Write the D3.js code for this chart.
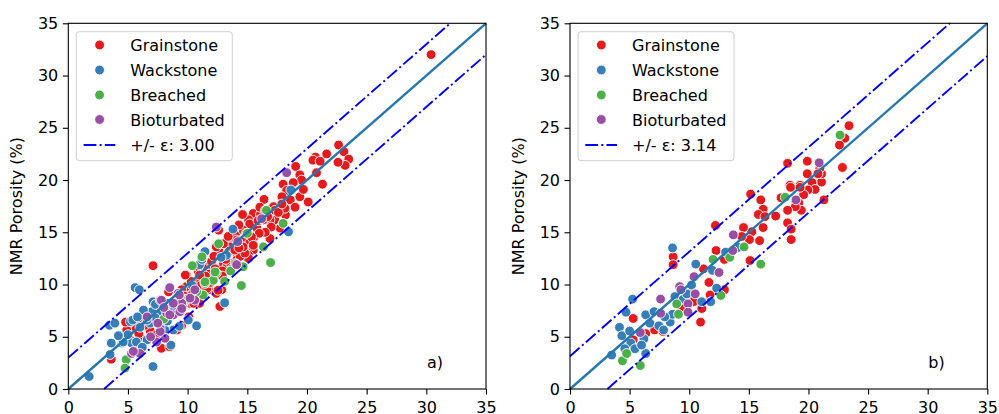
<!DOCTYPE html>
<html>
<head>
<meta charset="utf-8">
<script src="https://cdn.jsdelivr.net/npm/d3@7"></script>
<style>
  body { margin: 0; background: #fff; }
  svg { display: block; font-family: "DejaVu Sans", sans-serif; }
</style>
</head>
<body>
<svg id="chart" width="999" height="414"></svg>
<script>
// Facies classes and their colours (ColorBrewer Set1)
const categories = ["Grainstone", "Wackstone", "Breached", "Bioturbated"];
const colors = ["#e41a1c", "#377eb8", "#4daf4a", "#984ea3"];
const ticks = [0, 5, 10, 15, 20, 25, 30, 35];
const panelTags = ["a)", "b)"];
const epsilons = [3.00, 3.14];

// Panel a) — [core porosity, NMR porosity] pairs per facies
const grainstoneA = [
  [30.4,32.0],[22.65,23.35],[23.1,22.7],[23.5,22.0],[23.2,21.4],[22.6,21.7],[21.65,22.5],[20.7,22.2],
  [20.5,21.9],[20.8,20.7],[21.3,19.6],[20.1,17.9],[19.05,21.3],[19.4,20.5],[19.55,20.0],[18.85,19.75],
  [18.0,19.6],[18.3,19.0],[19.4,18.4],[18.6,18.1],[17.9,18.4],[19.0,17.4],[18.2,17.2],[18.2,16.65],
  [17.2,17.45],[16.4,18.15],[16.6,17.0],[17.3,16.2],[17.75,15.4],[16.9,16.2],[16.35,16.2],[15.5,16.8],
  [15.5,15.85],[15.1,16.2],[14.6,16.7],[13.8,15.2],[14.9,14.3],[15.6,14.6],[13.8,14.3],[13.55,13.6],
  [14.95,13.6],[15.5,13.3],[14.1,13.0],[15.1,12.8],[14.1,12.35],[15.1,12.5],[13.3,12.8],[13.0,12.0],
  [13.3,11.7],[12.6,13.3],[12.4,13.6],[12.6,15.2],[16.9,14.4],[11.75,11.7],[11.3,11.55],[10.9,11.2],
  [11.3,10.4],[9.9,10.9],[10.75,10.3],[9.9,9.8],[10.5,8.8],[10.2,8.2],[11.0,8.2],[11.75,9.5],
  [12.4,9.15],[12.85,9.5],[12.7,7.9],[9.5,9.5],[8.4,9.3],[7.1,11.8],[9.1,5.65],[9.5,6.1],
  [7.8,3.9],[6.8,5.65],[6.1,6.6],[5.2,5.65],[4.9,6.45],[4.9,5.65],[5.2,4.7],[3.6,2.85],[6.0,5.0],
  [12.0,12.2],[12.3,11.5],[13.5,13.2],[14.4,12.7],[11.8,11.0],[12.9,11.3],[14.0,14.8],[13.0,13.9],
  [15.8,15.4],[16.1,16.7],[17.0,15.5],[16.5,15.0],[15.2,14.0],[13.6,12.0],[14.8,13.0],[12.1,10.6],
  [11.5,10.8],[10.6,9.6],[11.1,9.9],[10.3,10.3],[9.8,10.9],[10.9,11.7],[11.0,10.9],[11.6,9.6],
  [12.55,9.45],[10.6,8.7],[9.35,8.5],[10.1,6.9],[10.5,8.2],[8.5,4.05],[5.7,5.8],[6.85,5.6],
  [4.8,6.4],[16.05,17.4],[15.2,15.8],[16.0,14.9],[14.65,15.2],[15.35,14.55],[15.5,13.75],[14.65,13.6],
  [14.1,14.25],[13.95,13.3],[18.15,17.3],[17.3,17.1],[16.5,17.1],
  [12.2,12.7],[13.2,12.4],[14.3,13.5],[12.9,10.8],[11.9,10.2],[13.7,11.5],[14.9,14.9],[15.9,16.1],
  [16.7,16.5],[17.6,16.9],[14.3,15.7],[13.4,14.6],[10.4,9.1],[9.7,8.9],[5.9,5.3],[6.4,6.1],
  [7.4,5.2],[17.9,17.7],[19.7,19.1],[21.1,21.8]
];
const wackstoneA = [
  [1.75,1.2],[3.45,6.1],[3.9,6.3],[3.6,4.4],[4.5,4.4],[5.6,9.7],[5.95,9.5],[7.1,2.15],
  [8.6,4.2],[10.75,6.05],[10.05,6.6],[13.1,8.25],[13.25,12.8],[13.8,15.3],[11.45,13.15],[18.45,15.05],
  [18.65,19.05],[7.1,8.35],[6.3,7.4],[6.6,4.7],[5.3,4.4],[9.1,7.55],[8.8,5.65],[5.2,6.45],
  [11.0,11.9],[7.7,7.25],[7.0,7.4],[7.8,7.4],[6.3,7.55],[5.4,6.6],[4.6,4.5],[5.7,4.5],
  [8.1,5.65],[8.77,7.55],[6.85,6.3],[8.9,7.55],[9.3,6.0],[6.0,5.9],[7.3,6.8],[5.0,5.2],
  [6.2,4.0],[8.3,8.2],[9.6,7.9],[11.2,12.4],[12.8,12.6],[3.5,3.3],
  [6.6,6.6],[7.6,6.2],[5.8,6.9],[9.9,8.6],[10.4,9.9],[7.3,8.1],[8.3,6.5],[4.2,5.1]
];
const breachedA = [
  [4.85,2.8],[4.75,2.0],[14.5,9.9],[16.95,12.1],[18.0,15.85],[16.35,13.6],[10.4,11.8],[11.2,12.65],
  [12.4,11.1],[12.15,10.4],[11.45,10.1],[11.3,9.0],[10.75,9.3],[12.6,13.9],[14.65,11.7],[16.6,17.1],
  [12.3,11.2],[11.45,10.25],[13.6,11.3],[8.0,6.7],[15.0,14.9],[14.0,12.0],[9.4,8.7],[13.1,10.3]
];
const bioturbatedA = [
  [18.3,20.7],[16.2,16.3],[12.4,15.5],[14.2,14.1],[14.1,11.9],[8.5,9.7],[7.7,8.5],[9.2,9.15],
  [9.5,8.2],[8.25,7.25],[8.8,7.1],[10.6,8.5],[6.6,6.9],[7.7,5.8],[8.1,4.85],[7.4,4.5],
  [5.3,3.4],[6.0,3.4],[9.3,9.0],[8.8,8.2],[7.8,8.5],[8.5,7.1],[9.35,7.4],[10.2,8.7],
  [10.6,9.5],[5.45,3.6],[7.7,5.5],[7.5,6.3],[9.5,7.7],[6.9,5.0],[8.0,7.8]
];

// Panel b)
const grainstoneB = [
  [23.4,25.2],[23.05,24.0],[22.6,23.35],[22.85,21.2],[21.3,18.1],[21.1,19.8],[21.1,20.6],[20.95,21.1],
  [19.9,21.8],[19.9,20.6],[20.3,19.75],[20.55,19.1],[19.95,19.05],[19.3,19.5],[19.6,18.6],[19.2,17.8],
  [19.4,17.1],[18.9,17.45],[18.45,19.5],[18.25,21.6],[17.7,18.3],[18.25,17.1],[18.25,15.9],[18.55,15.3],
  [18.55,14.3],[17.25,16.55],[16.0,18.1],[16.2,17.2],[15.8,16.7],[16.35,16.5],[16.2,15.45],[15.9,14.2],
  [15.15,18.65],[15.25,15.05],[15.05,14.3],[14.55,15.45],[14.4,14.6],[15.1,12.3],[12.2,15.65],[12.25,13.25],
  [12.95,12.4],[12.95,9.5],[11.75,9.0],[11.65,10.2],[11.2,11.5],[11.05,7.7],[10.95,6.4],[8.65,12.65],
  [8.65,11.9],[10.05,9.15],[10.35,8.35],[9.35,7.7],[5.3,6.75],[5.3,4.7],[6.35,5.3],[7.1,5.65],
  [7.8,5.5],[20.8,20.6],[18.5,19.3],[19.3,19.3]
];
const wackstoneB = [
  [3.5,3.25],[4.15,5.9],[4.35,5.1],[4.7,7.35],[5.25,8.6],[5.0,5.55],[5.1,4.4],[4.6,3.85],
  [5.45,3.85],[6.2,4.8],[6.35,3.4],[6.35,7.1],[6.7,6.3],[7.05,7.4],[7.45,6.05],[7.85,5.65],
  [8.4,6.4],[8.6,7.15],[8.8,8.85],[8.6,13.5],[9.5,8.6],[10.2,9.95],[10.55,11.95],[11.95,11.35],
  [12.3,9.65],[11.8,8.35],[13.05,13.1],[14.1,13.55],[11.05,8.35],[7.95,6.9],[9.8,9.1],[6.0,4.2]
];
const breachedB = [
  [4.4,2.7],[4.75,3.4],[5.9,2.25],[8.95,8.15],[9.1,7.15],[12.65,8.95],[12.0,12.4],[13.4,12.6],
  [14.6,13.6],[16.0,11.95],[22.65,24.3],[18.05,18.35]
];
const bioturbatedB = [
  [20.9,21.65],[18.95,18.1],[13.7,14.75],[13.65,13.25],[12.5,11.15],[10.4,10.75],[9.2,9.8],[9.3,9.5],
  [10.5,9.1],[9.9,8.15],[9.9,7.35],[7.6,8.6],[7.6,7.25],[5.9,5.4]
];

const panels = [
  { x0: 68.3, x1: 486.0, series: [grainstoneA, wackstoneA, breachedA, bioturbatedA], eps: epsilons[0], tag: panelTags[0] },
  { x0: 570.0, x1: 987.3, series: [grainstoneB, wackstoneB, breachedB, bioturbatedB], eps: epsilons[1], tag: panelTags[1] }
];
const yTop = 23.3, yBot = 389;
const markerR = 4.9;

const svg = d3.select("#chart");

panels.forEach(p => {
  const x = d3.scaleLinear().domain([0, 35]).range([p.x0, p.x1]);
  const y = d3.scaleLinear().domain([0, 35]).range([yBot, yTop]);
  const g = svg.append("g");

  // scatter points, white-edged
  p.series.forEach((pts, i) => {
    g.append("g").selectAll("circle").data(pts).join("circle")
      .attr("cx", d => x(d[0])).attr("cy", d => y(d[1]))
      .attr("r", markerR)
      .attr("fill", colors[i])
      .attr("stroke", "#fff").attr("stroke-width", 0.9);
  });

  const line = d3.line().x(d => x(d[0])).y(d => y(d[1]));
  // 1:1 line
  g.append("path").attr("d", line([[0, 0], [35, 35]]))
    .attr("fill", "none").attr("stroke", "#2477b3").attr("stroke-width", 2.4);
  // ± epsilon bounds
  const bounds = [
    [[0, p.eps], [35 - p.eps, 35]],
    [[p.eps, 0], [35, 35 - p.eps]]
  ];
  bounds.forEach(b => {
    g.append("path").attr("d", line(b))
      .attr("fill", "none").attr("stroke", "#0000ff").attr("stroke-width", 1.9)
      .attr("stroke-dasharray", "12.8,3.2,2,3.2");
  });

  // axes
  const ax = g.append("g").attr("transform", `translate(0,${yBot})`)
    .call(d3.axisBottom(x).tickValues(ticks).tickSize(5.5).tickPadding(5.5));
  const ay = g.append("g").attr("transform", `translate(${p.x0},0)`)
    .call(d3.axisLeft(y).tickValues(ticks).tickSize(5.5).tickPadding(4.5));
  [ax, ay].forEach(a => {
    a.select(".domain").remove();
    a.selectAll("line").attr("stroke", "#000").attr("stroke-width", 1.1);
    a.selectAll("text").attr("font-size", 16).attr("font-family", "DejaVu Sans").attr("fill", "#000");
  });
  ax.selectAll("text").attr("dy", null).attr("y", 23.5);

  // frame
  g.append("rect").attr("x", p.x0).attr("y", yTop)
    .attr("width", p.x1 - p.x0).attr("height", yBot - yTop)
    .attr("fill", "none").attr("stroke", "#000").attr("stroke-width", 1.1);

  // y label
  g.append("text")
    .attr("transform", `translate(${p.x0 - 46},${(yTop + yBot) / 2}) rotate(-90)`)
    .attr("text-anchor", "middle").attr("font-size", 16).attr("fill", "#000")
    .text("NMR Porosity (%)");

  // panel tag
  g.append("text").attr("x", p.x1 - 59).attr("y", 368)
    .attr("font-size", 16).attr("fill", "#000").text(p.tag);

  // legend
  const lx = p.x0 + 8, ly = 31.7;
  const lg = g.append("g");
  lg.append("rect").attr("x", lx).attr("y", ly).attr("width", 156).attr("height", 129)
    .attr("rx", 3).attr("fill", "#fff").attr("fill-opacity", 0.8)
    .attr("stroke", "#d0d0d0").attr("stroke-width", 1);
  const rowY = [45, 70, 95, 119.5, 145];
  categories.forEach((c, i) => {
    lg.append("circle").attr("cx", lx + 23.3).attr("cy", rowY[i]).attr("r", markerR)
      .attr("fill", colors[i]).attr("stroke", "#fff").attr("stroke-width", 0.9);
    lg.append("text").attr("x", lx + 54).attr("y", rowY[i] + 6)
      .attr("font-size", 16).attr("fill", "#000").text(c);
  });
  lg.append("path").attr("d", d3.line()([[lx + 7.3, rowY[4]], [lx + 39, rowY[4]]]))
    .attr("stroke", "#0000ff").attr("stroke-width", 1.9)
    .attr("stroke-dasharray", "12.8,3.2,2,3.2");
  lg.append("text").attr("x", lx + 54).attr("y", rowY[4] + 6)
    .attr("font-size", 16).attr("fill", "#000")
    .text(`+/- ε: ${p.eps.toFixed(2)}`);
});
</script>
</body>
</html>
